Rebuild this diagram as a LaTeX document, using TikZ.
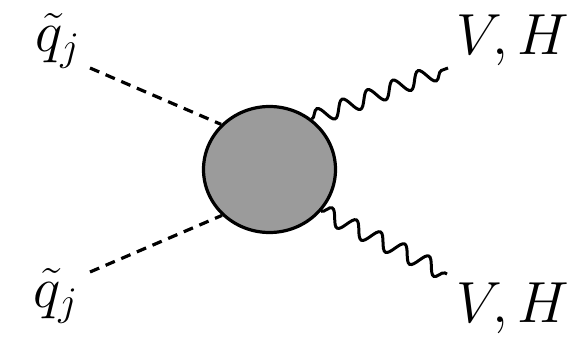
\RequirePackage{fix-cm}
\documentclass[tikz,border=0pt]{standalone}
\usetikzlibrary{shapes.geometric,decorations.pathmorphing}
\definecolor{blobgray}{RGB}{155,155,155}
\begin{document}
\begin{tikzpicture}[x=1pt,y=-1pt,
  lbl/.style={anchor=base west,inner sep=0pt,font=\fontsize{58}{62}\selectfont},
  scalar/.style={line width=3.2pt,dash pattern=on 10pt off 7pt},
  boson/.style={line width=3pt,decorate,decoration={snake,segment length=27pt,amplitude=8pt}},
  blobstyle/.style={ellipse,draw,line width=3.2pt,fill=blobgray,minimum width=132pt,minimum height=126pt,inner sep=0pt}]
\useasboundingbox (0,0) rectangle (569,339);
\node[blobstyle] (blob) at (269.5,169.5) {};
\coordinate (q1) at (90,68);
\coordinate (q2) at (90,272);
\coordinate (v1) at (448,68);
\coordinate (v2) at (447,274);
\draw[scalar] (q1) -- (blob.137);
\draw[scalar] (q2) -- (blob.224);
\draw[boson] (blob.50) -- (v1);
\draw[boson] (blob.321) -- (v2);
\node[lbl] (lq1) at (35,52) {$\tilde q_j$};
\node[lbl] (lq2) at (33,307) {$\tilde q_j$};
\node[lbl] (lv1) at (456,55) {$V,H$};
\node[lbl] (lv2) at (456,322) {$V,H$};
\end{tikzpicture}
\end{document}
